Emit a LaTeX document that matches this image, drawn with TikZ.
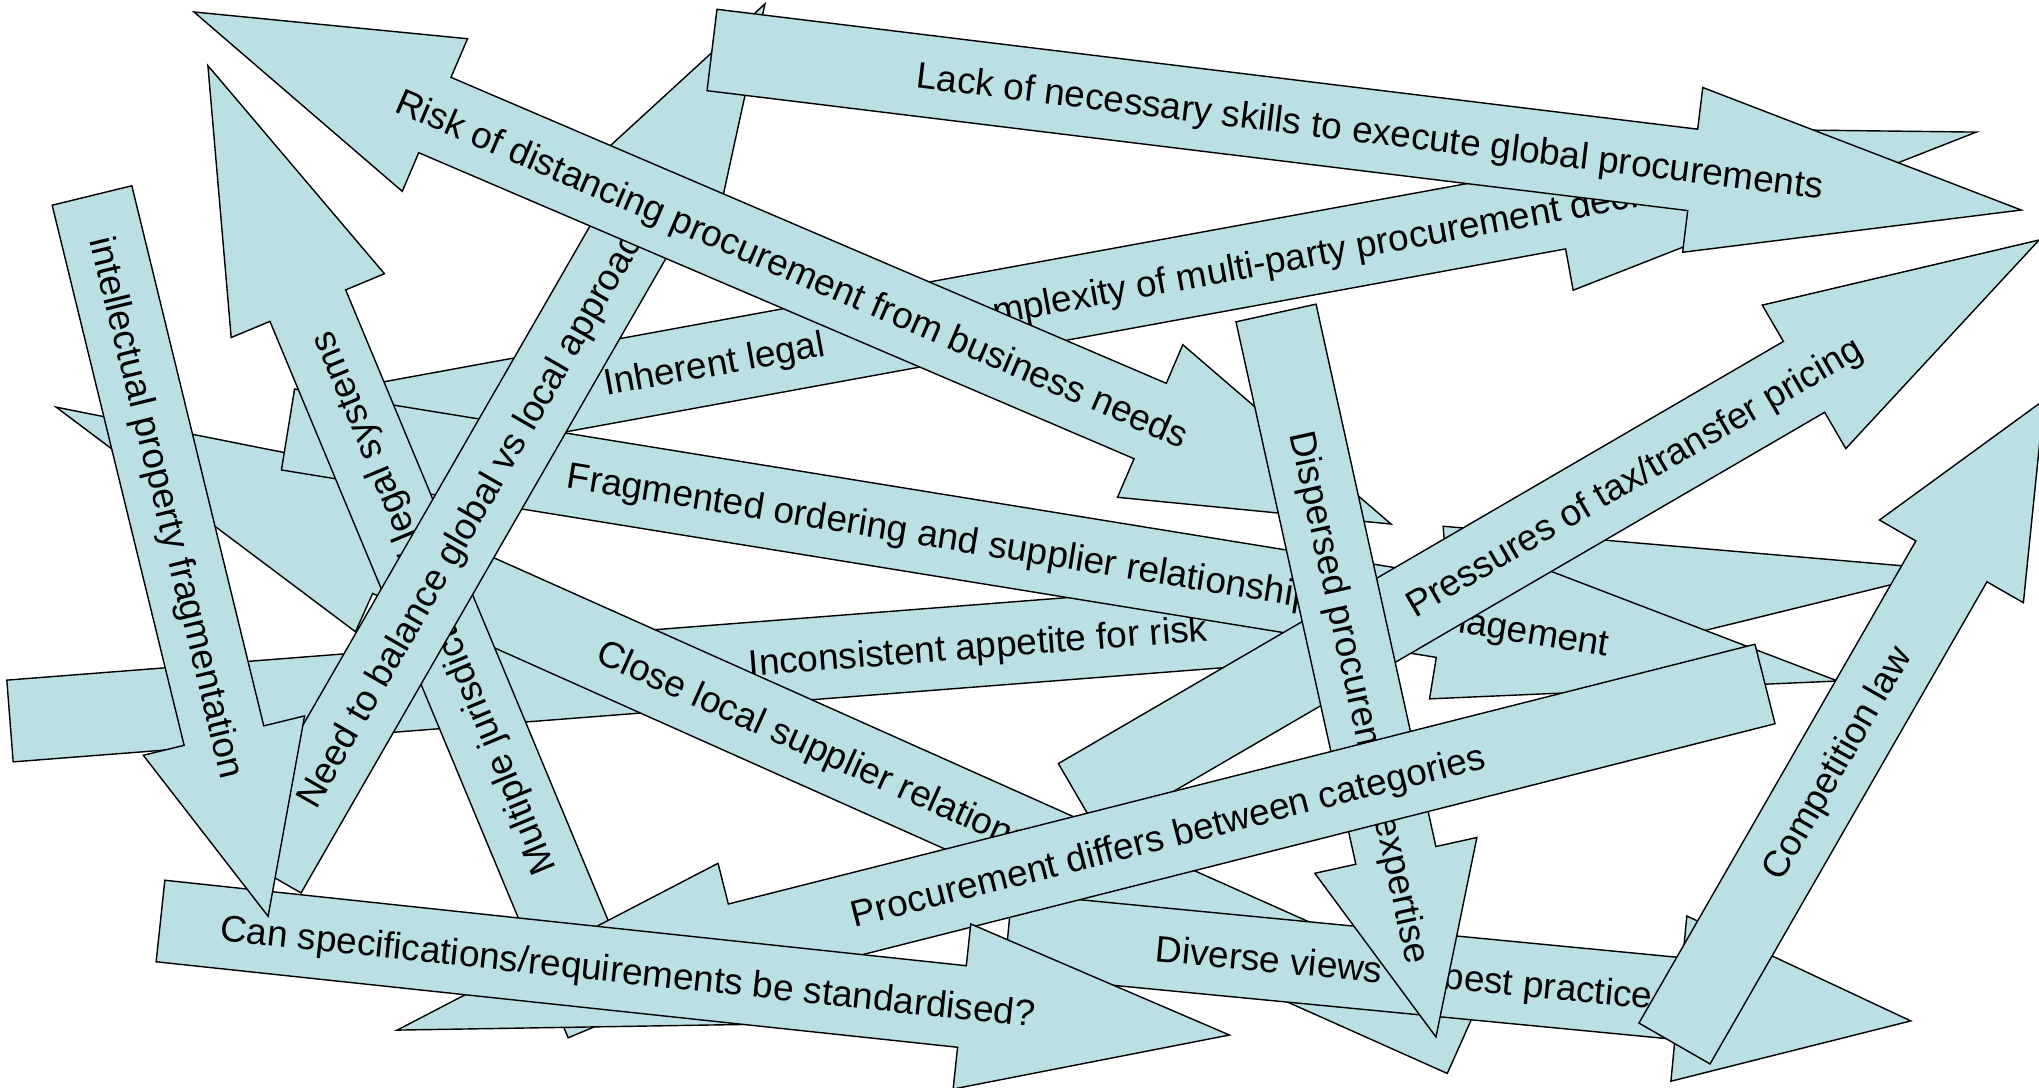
\documentclass[tikz,border=0pt]{standalone}
\usepackage{fontspec}
\setmainfont{Liberation Sans}
\definecolor{arrowblue}{RGB}{187,224,227}

% block arrow: [text options]{name}{tail x}{tail y}{angle}{length}{head length}{text position}{text}
\newcommand{\slidearrow}[9][]{%
  \begin{scope}[shift={(#3,-#4)}, rotate={-(#5)}, transform shape]
    \filldraw[arrowbox] (0,-41) -- ({#6-#7},-41) -- ({#6-#7},-83) -- (#6,0)
      -- ({#6-#7},83) -- ({#6-#7},41) -- (0,41) -- cycle;
    \node[arrowtext,#1] (#2) at (#8,0) {#9};
  \end{scope}}

\begin{document}
\begin{tikzpicture}[x=0.01cm,y=0.01cm,
  arrowbox/.style={fill=arrowblue,draw=black,line width=0.4pt},
  arrowtext/.style={font=\fontsize{10.5pt}{12pt}\selectfont,inner sep=0pt,text height=9.5pt,text depth=2.2pt}]

% Fix the frame of the slide
\useasboundingbox (0,0) rectangle (2039,-1088);
\clip (0,0) rectangle (2039,-1088);

% Draw the arrows, back to front
\slidearrow{inconsistent}{10}{721}{-4.45}{1947}{503}{971}{Inconsistent appetite for risk}
\slidearrow[rotate=180]{close}{1464}{1036}{204.07}{1542}{365}{678}{Close local supplier relationships}
\slidearrow[anchor=west]{legal}{370}{426}{-10.37}{1633}{425}{237}{Inherent legal\hspace{3.6em}complexity of multi-party procurement decisions}
\slidearrow[anchor=west]{fragmented}{288}{429.5}{9.22}{1570}{400}{283}{Fragmented ordering and supplier relationship\hspace{2em} management}
\slidearrow{jurisdictions}{606}{1022}{-112.6}{1036}{260}{453}{Multiple jurisdictions / legal systems}
\slidearrow{balance}{265.5}{872.5}{-60.1}{1002}{262}{417}{Need to balance global vs local approach}

% Double-headed arrow
\begin{scope}[shift={(194,-12)}, rotate=-23.16, transform shape]
  \filldraw[arrowbox] (0,0) -- (262,83) -- (262,41) -- (1040,41) -- (1040,83) -- (1302,0)
    -- (1040,-83) -- (1040,-41) -- (262,-41) -- (262,-83) -- cycle;
  \node[arrowtext] (risk) at (651,0) {Risk of distancing procurement from business needs};
\end{scope}

\slidearrow{skills}{712}{50}{6.97}{1319}{331}{663}{Lack of necessary skills to execute global procurements}
\slidearrow{tax}{1079}{799}{-30.21}{1111}{272}{642}{Pressures of tax/transfer pricing}
\slidearrow{views}{1008}{934}{5.5}{907}{233}{398}{Diverse views on best practice}
\slidearrow{dispersed}{1276}{313}{77.54}{741.5}{186}{394}{Dispersed procurement expertise}
\slidearrow[rotate=180]{categories}{1765}{684}{165.8}{1411}{352}{616}{Procurement differs between categories}
\slidearrow{specs}{160.5}{921}{6.09}{1075}{269}{470}{Can specifications/requirements be standardised?}
\slidearrow{ip}{92}{195.5}{76.27}{742}{186}{321}{intellectual property fragmentation}
\slidearrow{competition}{1674.5}{1043.5}{-60.13}{742}{186}{324}{Competition law}

\end{tikzpicture}
\end{document}
